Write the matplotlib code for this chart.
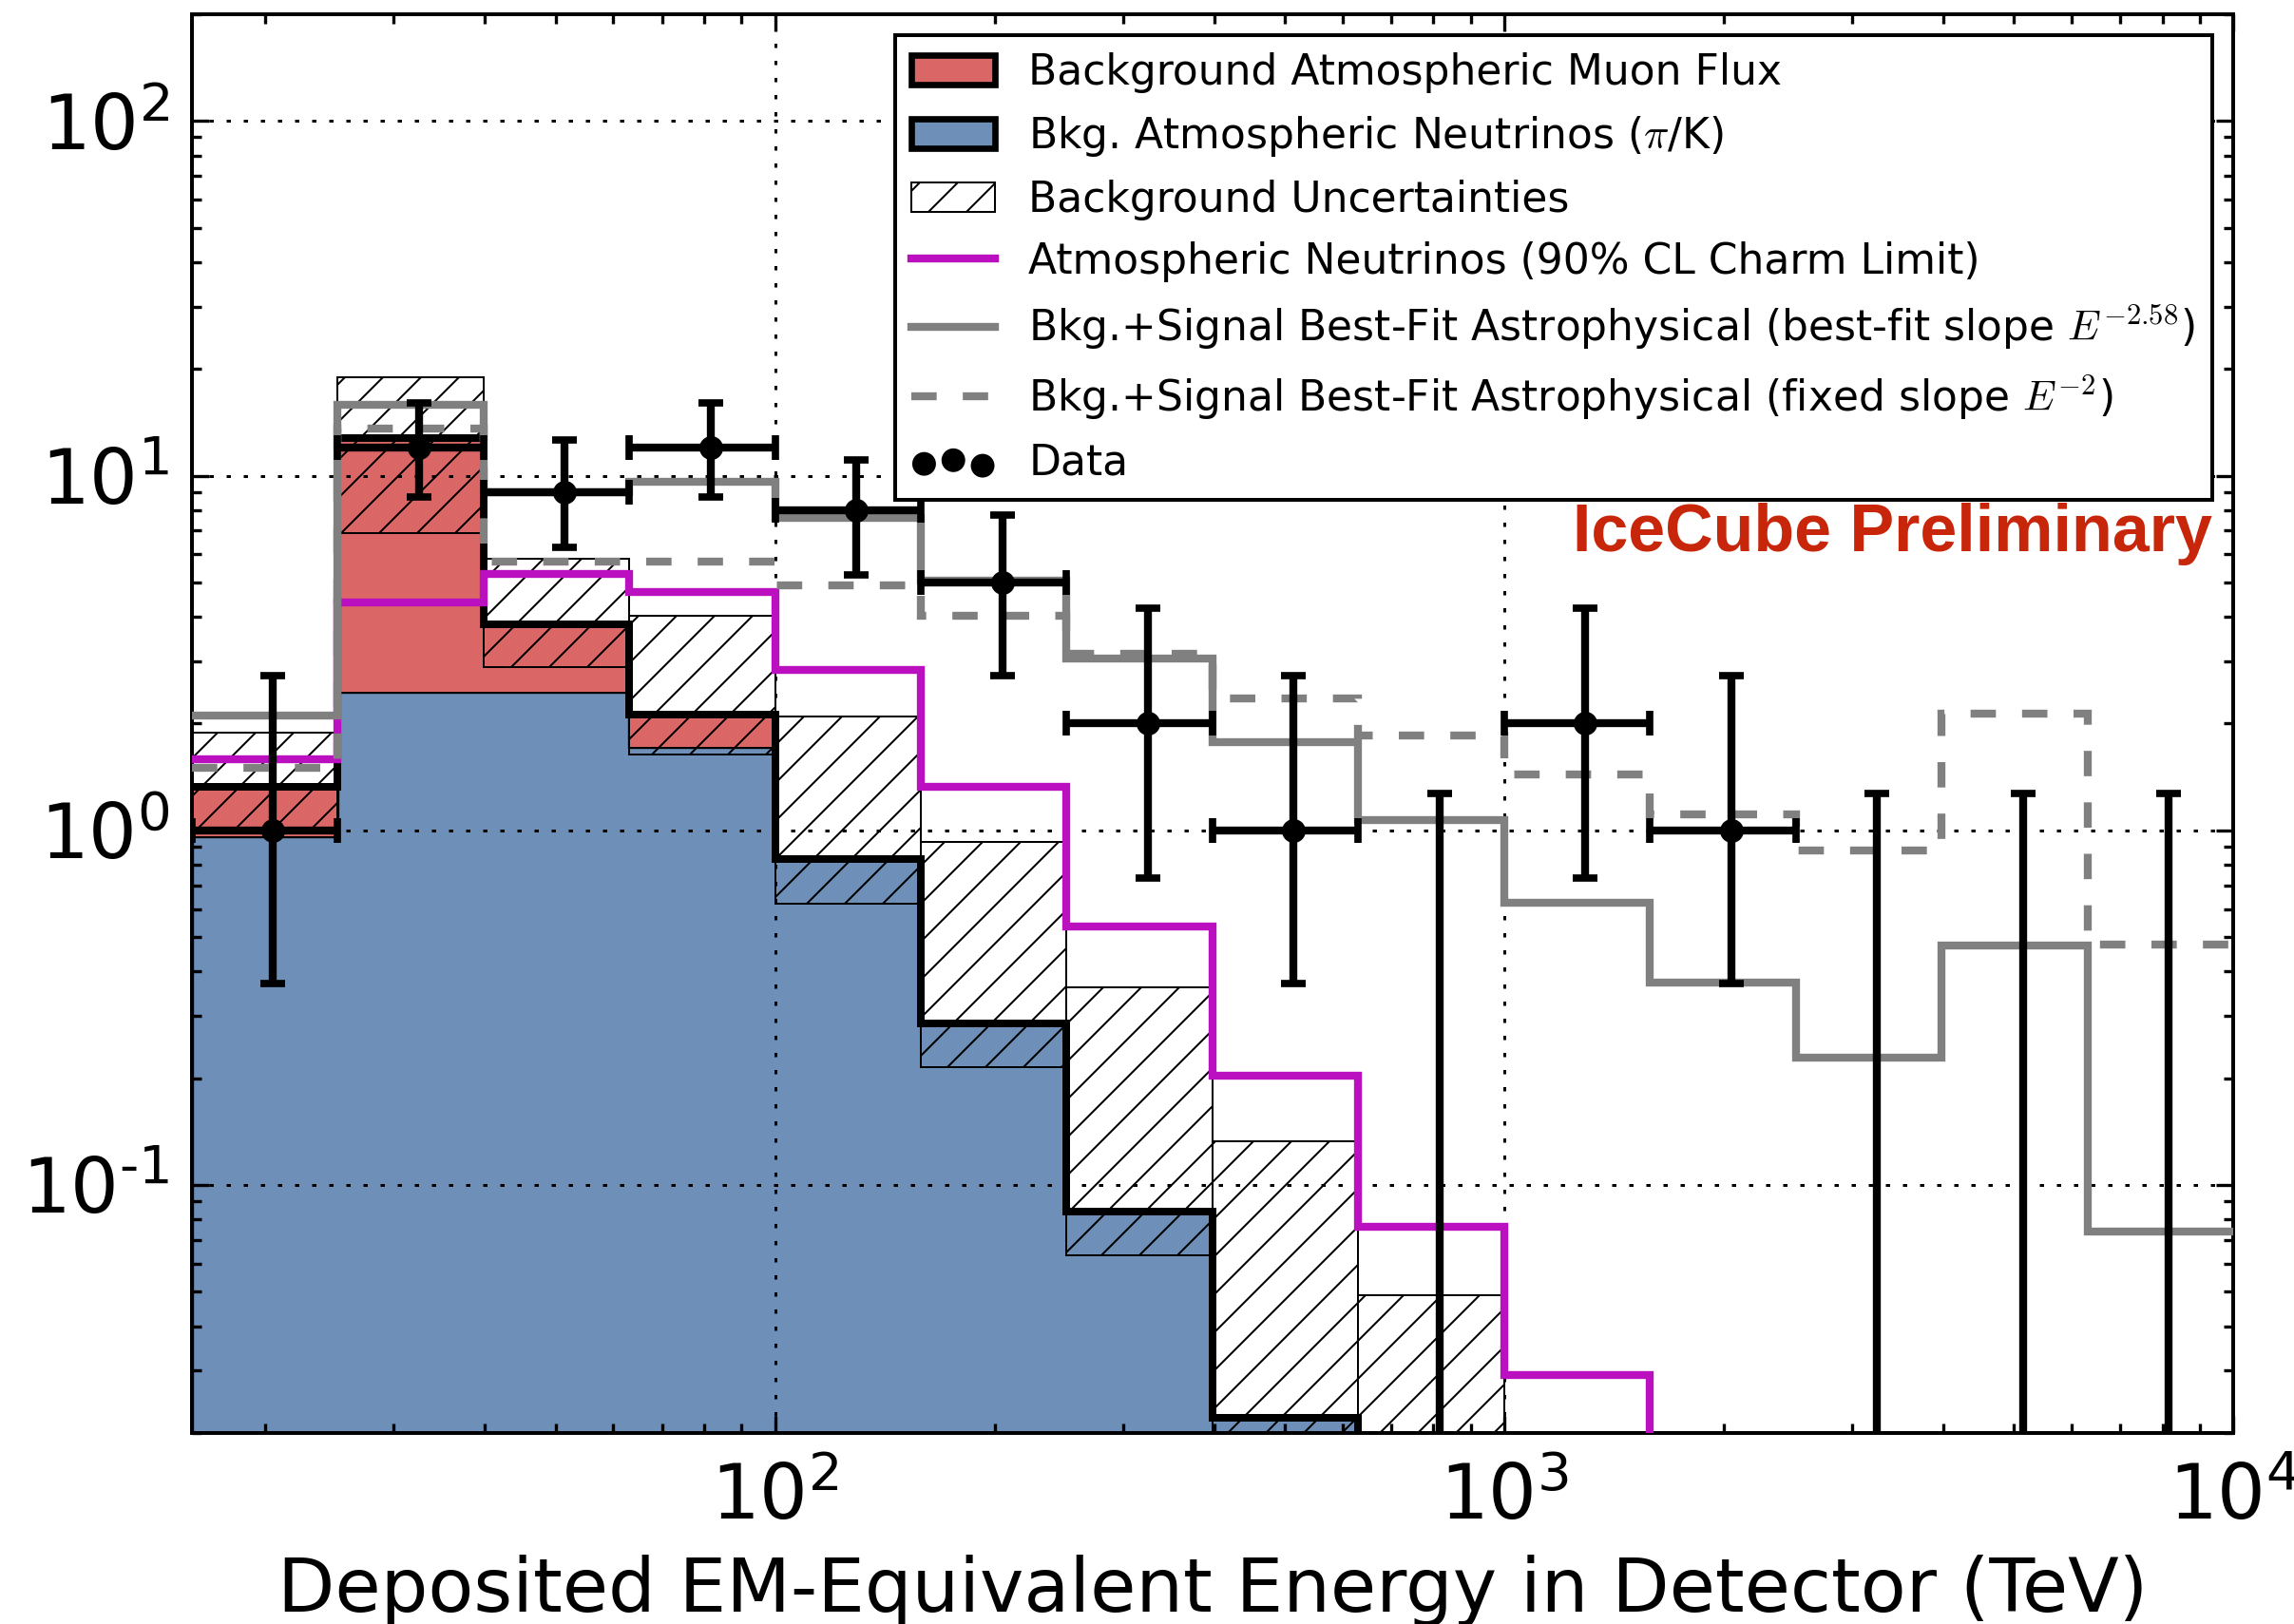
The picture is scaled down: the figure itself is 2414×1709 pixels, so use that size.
import numpy as np
import matplotlib
matplotlib.use("Agg")
import matplotlib.pyplot as plt
from matplotlib.patches import Patch
from matplotlib.lines import Line2D
from matplotlib.ticker import FuncFormatter

plt.rcParams["mathtext.fontset"] = "cm"
plt.rcParams["hatch.linewidth"] = 0.6

# energy bins (log10 TeV), 5 per decade
log_edges = [1.2, 1.4, 1.6, 1.8, 2.0, 2.2, 2.4, 2.6, 2.8, 3.0, 3.2, 3.4, 3.6, 3.8, 4.0]

# background expectations per bin (events)
atm_nu = [0.96, 2.46, 2.46, 1.72, 0.83, 0.285, 0.084, 0.022, 0.006, 0.002, 0.0007, 0.0003, 0.0001, 0.00005]
atm_mu = [0.37, 10.3, 1.35, 0.40, 0.0, 0.0, 0.0, 0.0, 0.0, 0.0, 0.0, 0.0, 0.0, 0.0]
unc_lo = [0.98, 6.9, 2.89, 1.64, 0.62, 0.215, 0.0635, 0.010, 0.003, 0.001, 0.0004, 0.0002, 0.0001, 0.00005]
unc_hi = [1.89, 18.9, 5.83, 4.03, 2.10, 0.93, 0.361, 0.133, 0.049, 0.015, 0.005, 0.002, 0.001, 0.0005]

# charm limit and signal+background fits
charm = [1.59, 4.38, 5.28, 4.70, 2.83, 1.33, 0.534, 0.203, 0.0763, 0.0291, 0.011, 0.004, 0.0015, 0.0006]
fit_258 = [2.11, 15.8, 9.0, 9.6, 7.6, 5.06, 3.05, 1.77, 1.07, 0.626, 0.373, 0.228, 0.474, 0.074]
fit_2 = [1.50, 13.6, 5.72, 5.72, 4.9, 4.03, 3.15, 2.35, 1.85, 1.44, 1.11, 0.878, 2.13, 0.476]

# observed events with 68% intervals
counts = [1, 12, 9, 12, 8, 5, 2, 1, 0, 2, 1, 0, 0, 0]
cnt_lo = [0.369, 8.73, 6.27, 8.73, 5.26, 2.73, 0.735, 0.369, 0, 0.735, 0.369, 0, 0, 0]
cnt_hi = [2.73, 16.0, 12.6, 16.0, 11.1, 7.75, 4.23, 2.73, 1.27, 4.23, 2.73, 1.27, 1.27, 1.27]

c_mu = "#DA6766"
c_nu = "#6E8FB8"
c_charm = "#BB10C0"
c_fit = "#808080"
lw_line = 2.5

edges = 10 ** np.array(log_edges)
nu = np.array(atm_nu)
tot = nu + np.array(atm_mu)
lo = np.array(unc_lo)
hi = np.array(unc_hi)
n = np.array(counts, dtype=float)
xc = 0.5 * (edges[:-1] + edges[1:])
has = n > 0

fig = plt.figure(figsize=(2414 / 240, 1709 / 240), dpi=240)
ax = fig.add_axes([0.0836, 0.1177, 0.8899, 0.8735])
ax.set_xscale("log")
ax.set_yscale("log")

base = 1e-6
ax.stairs(nu, edges, baseline=base, fill=True, facecolor=c_nu, edgecolor="k", lw=1.0, zorder=1)
ax.stairs(tot, edges, baseline=nu, fill=True, facecolor=c_mu, edgecolor="none", zorder=1)
ax.bar(edges[:-1], hi - lo, width=np.diff(edges), bottom=lo, align="edge",
       facecolor="none", edgecolor="k", hatch="//", lw=0.6, zorder=1.2)
ax.stairs(tot, edges, baseline=None, color="k", lw=2.4, zorder=1.4)

ax.stairs(charm, edges, baseline=None, color=c_charm, lw=lw_line, zorder=3)
ax.stairs(fit_258, edges, baseline=None, color=c_fit, lw=lw_line, zorder=3.1)
ax.stairs(fit_2, edges, baseline=None, color=c_fit, lw=lw_line, linestyle=(0, (3.2, 3.3)), zorder=3.2)

# data points with horizontal bin widths
ax.errorbar(xc[has], n[has],
            xerr=[xc[has] - edges[:-1][has], edges[1:][has] - xc[has]],
            yerr=[n[has] - np.array(cnt_lo)[has], np.array(cnt_hi)[has] - n[has]],
            fmt="none", ecolor="k", elinewidth=2.5, capsize=4, capthick=2.3, zorder=5)
# empty bins: upper limit only
zero = ~has
ax.errorbar(xc[zero], np.full(zero.sum(), base),
            yerr=[np.zeros(zero.sum()), np.array(cnt_hi)[zero] - base],
            fmt="none", ecolor="k", elinewidth=2.5, capsize=4, capthick=2.3, zorder=5)
sc = ax.scatter(xc[has], n[has], s=42, c="k", zorder=6, label="Data")


def pow10(v, pos):
    e = int(round(np.log10(v)))
    return r"$\mathdefault{10^{%s}}$" % str(e).replace("-", "\u2010")


ax.set_xlim(edges[0], edges[-1])
ax.set_ylim(0.02, 200)
ax.xaxis.set_major_formatter(FuncFormatter(pow10))
ax.yaxis.set_major_formatter(FuncFormatter(pow10))
ax.set_axisbelow(False)
ax.grid(True, which="major", color="k", lw=0.9, linestyle=(0, (1.5, 4.5)))
ax.tick_params(which="both", direction="in", top=True, right=True, width=1.0, labelsize=24)
ax.tick_params(which="major", length=5.5)
ax.tick_params(which="minor", length=3)
ax.tick_params(axis="x", pad=9)
ax.tick_params(axis="y", pad=7)
for sp in ax.spines.values():
    sp.set_linewidth(1.2)
ax.set_xlabel("Deposited EM-Equivalent Energy in Detector (TeV)", fontsize=23.5, labelpad=6)

handles = [
    Patch(facecolor=c_mu, edgecolor="k", lw=2, label="Background Atmospheric Muon Flux"),
    Patch(facecolor=c_nu, edgecolor="k", lw=2, label=r"Bkg. Atmospheric Neutrinos ($\pi$/K)"),
    Patch(facecolor="white", edgecolor="k", hatch="//", lw=0.6, label="Background Uncertainties"),
    Line2D([], [], color=c_charm, lw=lw_line, label="Atmospheric Neutrinos (90% CL Charm Limit)"),
    Line2D([], [], color=c_fit, lw=lw_line,
           label=r"Bkg.+Signal Best-Fit Astrophysical (best-fit slope $E^{-2.58}$)"),
    Line2D([], [], color=c_fit, lw=lw_line, linestyle=(0, (3.2, 3.3)),
           label=r"Bkg.+Signal Best-Fit Astrophysical (fixed slope $E^{-2}$)"),
    sc,
]
leg = ax.legend(handles=handles, loc="upper right", fontsize=13.2, fancybox=False,
                framealpha=1, edgecolor="k", borderpad=0.4, labelspacing=0.5,
                scatterpoints=3)
leg.get_frame().set_linewidth(1.2)
leg.set_zorder(10)

ax.text(0.9898, 0.6336, "IceCube Preliminary", transform=ax.transAxes, ha="right",
        va="center", color="#C8260A", fontsize=21, fontweight="bold",
        family="Liberation Sans", zorder=10)

fig.savefig("out.png", dpi=240)
